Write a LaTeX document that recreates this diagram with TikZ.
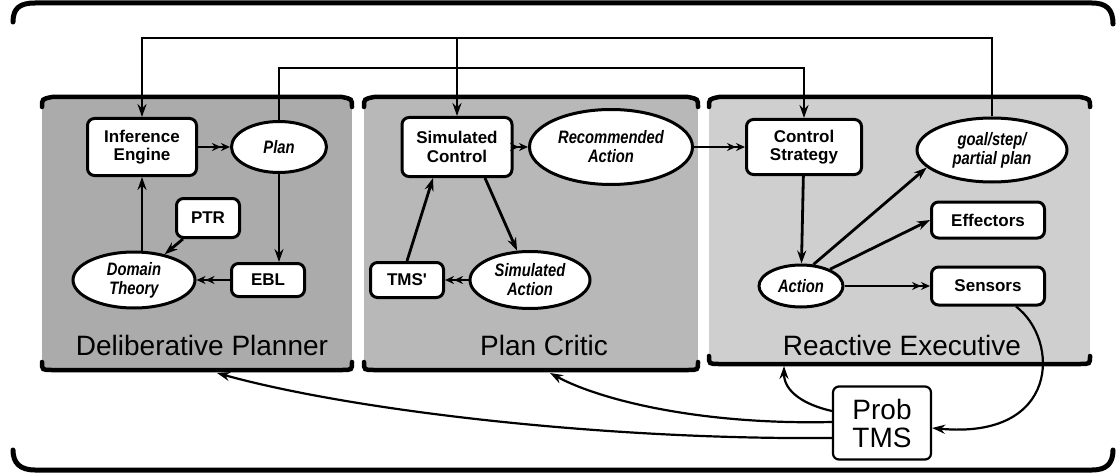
\documentclass[tikz,border=0pt]{standalone}
\usepackage{fontspec}
\setsansfont{Liberation Sans}
\newfontfamily\narrowsf[FakeStretch=0.82]{Liberation Sans}
\usepackage{tikz}
\usetikzlibrary{arrows,arrows.meta,positioning,shapes}
\tikzset{
  module/.style={draw,rectangle,rounded corners=7pt,fill=white,line width=3pt,
    align=center,inner sep=0pt,font=\sffamily\bfseries\fontsize{17}{18.5}\selectfont},
  datum/.style={draw,ellipse,fill=white,line width=3pt,align=center,inner sep=0pt,
    font=\narrowsf\bfseries\itshape\fontsize{18}{19}\selectfont},
  dims/.style 2 args={minimum width=#1pt,minimum height=#2pt},
  heading/.style={font=\sffamily\fontsize{28}{30}\selectfont},
  flow/.style={-{Stealth[length=13pt,width=9pt]},line width=2.8pt},
  feed/.style={-{Stealth[length=9pt,width=8pt]Stealth[length=9pt,width=8pt]},line width=2.2pt},
  rim/.style={line width=4.5pt,line cap=round},
  frame/.style={line width=5pt,line cap=round}
}
\begin{document}
\begin{tikzpicture}[x=1pt,y=-1pt]
  \useasboundingbox (0,0) rectangle (1116,476);

  % outer frame
  \draw[frame] (13,22) .. controls (13,8) and (20,3) .. (35,3) -- (1092,3) .. controls (1106,3) and (1113,9) .. (1113,24);
  \draw[frame] (13,450) .. controls (13,463) and (20,470) .. (35,470) -- (1092,470) .. controls (1106,470) and (1113,464) .. (1113,450);

  % the three panels
  \foreach \xa/\xb/\yb/\tone in {42/352/370/33,364/698/370/28,709/1090/364/19}{
    \fill[black!\tone] (\xa,99) rectangle (\xb,\yb);
    \draw[rim] (\xa,107) .. controls (\xa,99) .. (\xa+10,97) -- (\xb-10,97) .. controls (\xb,99) .. (\xb,107);
    \draw[rim] (\xa,\yb-8) .. controls (\xa,\yb) .. (\xa+10,\yb) -- (\xb-10,\yb) .. controls (\xb,\yb) .. (\xb,\yb-8);
  }
  \node[heading] (dpt) at (202,345) {Deliberative Planner};
  \node[heading] (pct) at (544,345) {Plan Critic};
  \node[heading] (ret) at (902,345) {Reactive Executive};

  % deliberative planner
  \node[module,dims={109}{57}] (ie) at (142,147) {Inference\\Engine};
  \node[datum,dims={95}{51}] (plan) [right of=ie,node distance=137pt] {Plan};
  \node[module,dims={63}{39}] (ptr) at (208,218) {PTR};
  \node[datum,dims={122}{56}] (dom) at (134,280) {Domain\\Theory};
  \node[module,dims={73}{33}] (ebl) [right of=dom,node distance=134pt] {EBL};

  % plan critic
  \node[module,dims={110}{59}] (sc) at (457,147) {Simulated\\Control};
  \node[datum,dims={163}{75}] (ra) [right of=sc,node distance=154pt] {Recommended\\Action};
  \node[module,dims={73}{35}] (tms) at (407,280) {TMS\textquotesingle};
  \node[datum,dims={120}{57}] (sa) [right of=tms,node distance=123pt] {Simulated\\Action};

  % reactive executive
  \node[module,dims={115}{55}] (cs) at (804,147) {Control\\Strategy};
  \node[datum,dims={150}{64}] (goal) at (992,150) {goal/step/\\partial plan};
  \node[datum,dims={84}{42}] (act) at (801,286) {Action};
  \node[module,dims={113}{38}] (sen) [right of=act,node distance=187pt] {Sensors};
  \node[module,dims={113}{36}] (eff) [above of=sen,node distance=66pt] {Effectors};

  \node[module,dims={98}{73},line width=2.2pt,rounded corners=6pt,
    font=\sffamily\fontsize{28}{28}\selectfont] (ptms) at (882,423) {Prob\\TMS};

  \coordinate (hi) at (0,38);
  \coordinate (lo) at (0,68);
  \coordinate (dpbase) at (217,373);
  \coordinate (pcbase) at (550,373);
  \coordinate (rebase) at (784,366);

  \draw[flow] (goal) -- (goal |- hi) -| (ie);
  \draw[flow] (sc |- hi) -- (sc);
  \draw[flow] (plan) -- (plan |- lo) -| (cs);

  \draw[feed] (ie) -- (plan);
  \draw[flow] (plan) -- (plan |- ebl.north);
  \draw[feed] (ebl) -- (dom);
  \draw[flow] (ptr) -- (dom);
  \draw[flow] (ie |- dom.north) -- (ie);

  \draw[feed] (sc) -- (ra);
  \draw[feed,line width=1.3pt] (ra) -- (cs);
  \draw[flow] (tms.north) -- ([xshift=-24pt]sc.south);
  \draw[flow] ([xshift=28pt]sc.south) -- (sa);
  \draw[feed] (sa) -- (tms);

  \draw[flow] (cs) -- (act);
  \draw[flow] (act.60) -- (goal.195);
  \draw[flow] (act.30) -- (eff.west);
  \draw[feed] (act) -- (sen);
  \draw[flow,line width=2.2pt] ([xshift=28pt]sen.south) .. controls (1060,340) and (1060,440) .. ([yshift=-5pt]ptms.east);

  \draw[flow,line width=2.2pt] ([yshift=12pt]ptms.west) .. controls (805,405) and (784,392) .. (rebase);
  \draw[flow,line width=2.2pt] ([yshift=1pt]ptms.west) .. controls (700,425) and (600,400) .. (pcbase);
  \draw[flow,line width=2.2pt] ([yshift=-15pt]ptms.west) .. controls (600,440) and (350,410) .. (dpbase);
\end{tikzpicture}
\end{document}
